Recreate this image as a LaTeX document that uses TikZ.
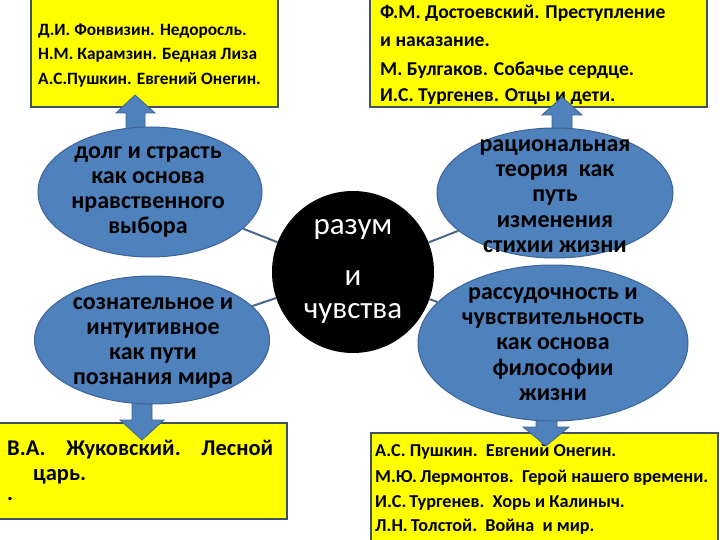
\documentclass[tikz,border=0pt]{standalone}
\usepackage{fontspec}
\setmainfont{Carlito}
\usetikzlibrary{shapes.geometric}
\definecolor{boxyellow}{RGB}{255,255,0}
\definecolor{boxline}{RGB}{62,80,100}
\definecolor{ellblue}{RGB}{79,129,189}
\definecolor{ellline}{RGB}{60,100,150}
\definecolor{conncol}{RGB}{74,104,138}
\begin{document}
\begin{tikzpicture}[x=1pt,y=-1pt,
  ybox/.style={draw=boxline,fill=boxyellow,line width=1.8pt},
  ell/.style={ellipse,draw=ellline,fill=ellblue,line width=1pt,inner sep=0pt},
  ellt/.style={align=center,inner sep=0pt,font=\bfseries\fontsize{24}{25.3}\selectfont,text=black},
  aline/.style={anchor=west,inner sep=0pt,font=\bfseries\fontsize{17.3}{20}\selectfont},
  rline/.style={anchor=west,inner sep=0pt,font=\bfseries\fontsize{19.6}{20}\selectfont},
  dline/.style={anchor=west,inner sep=0pt,font=\bfseries\fontsize{18.2}{20}\selectfont},
  cline/.style={anchor=west,inner sep=0pt,font=\bfseries\fontsize{22.5}{22}\selectfont},
  ctext/.style={anchor=base,inner sep=0pt,text=white,font=\fontsize{31}{31}\selectfont},
  blockarr/.style={draw=ellline,fill=ellblue,line width=0.8pt,line join=miter},
  conn/.style={draw=conncol,line width=2pt}]
\useasboundingbox (0,0) rectangle (720,540);
\fill[white] (0,0) rectangle (720,540);

% yellow boxes
\draw[ybox] (31,-3) rectangle (278,107);
\draw[ybox] (370,-3) rectangle (707,107);
\draw[ybox] (-3,423) rectangle (287,519);
\draw[ybox] (371,433) rectangle (718,545);

% box texts
\node[aline] (a1) at (38,31) {Д.И. Фонвизин. Недоросль.};
\node[aline] (a2) at (38,55) {Н.М. Карамзин. Бедная Лиза};
\node[aline] (a3) at (38,80) {А.С.Пушкин. Евгений Онегин.};

\node[rline] (b1) at (380,13) {Ф.М. Достоевский. Преступление};
\node[rline] (b2) at (380,42) {и наказание.};
\node[rline] (b3) at (380,70) {М. Булгаков. Собачье сердце.};
\node[rline] (b4) at (380,97) {И.С. Тургенев. Отцы и дети.};

\node[cline] (c1) at (7,450) {\hbox to 266pt{В.А.\hfill Жуковский.\hfill Лесной}};
\node[cline] (c2) at (33,477) {царь.};
\node[cline] (c3) at (7,499) {.};

\node[dline] (d1) at (375,452) {А.С. Пушкин.\ \ Евгений Онегин.};
\node[dline] (d2) at (375,478) {М.Ю.\,Лермонтов.\ \ Герой нашего времени.};
\node[dline] (d3) at (375,503) {И.С.\,Тургенев.\ \ Хорь и Калиныч.};
\node[dline] (d4) at (375,527) {Л.Н.\,Толстой.\ \ Война\ \ и мир.};

% block arrows
\draw[blockarr] (126,135) -- (126,113) -- (116,113) -- (135,95) -- (155,113) -- (145,113) -- (145,135) -- cycle;
\draw[blockarr] (552,135) -- (552,115) -- (542,115) -- (562,97) -- (582,115) -- (572,115) -- (572,135) -- cycle;
\draw[blockarr] (132,395) -- (132,420) -- (120,420) -- (142,440) -- (164,420) -- (152,420) -- (152,395) -- cycle;
\draw[blockarr] (536,405) -- (536,427) -- (523,427) -- (546,446) -- (569,427) -- (557,427) -- (557,405) -- cycle;

% ellipses and centre
\node[ell,minimum width=224pt,minimum height=130pt] (e1) at (150,192) {};
\node[ell,minimum width=235pt,minimum height=128pt] (e2) at (152,340) {};
\node[ell,minimum width=236pt,minimum height=130pt] (e3) at (555,193) {};
\node[ell,minimum width=270pt,minimum height=156pt] (e4) at (553,343) {};
\node[circle,fill=black,inner sep=0pt,minimum size=162pt] (c) at (353,272) {};

% connectors
\draw[conn] (c) -- (e1);
\draw[conn] (c) -- (e2);
\draw[conn] (c) -- (e3);
\draw[conn] (c) -- (e4);

% ellipse texts
\node[ellt] (t1) at (148,192) {долг и страсть\\как основа\\нравственного\\выбора};
\node[ellt] (t2) at (153,343) {сознательное и\\интуитивное\\как пути\\познания мира};
\node[ellt] (t3) at (555,196) {рациональная\\теория\ \ как\\путь\\изменения\\стихии жизни};
\node[ellt] (t4) at (553,344) {рассудочность и\\чувствительность\\как основа\\философии\\жизни};

% centre texts
\node[ctext] (m1) at (353,234) {разум};
\node[ctext] (m2) at (353,285) {и};
\node[ctext] (m3) at (353,318) {чувства};
\end{tikzpicture}
\end{document}
